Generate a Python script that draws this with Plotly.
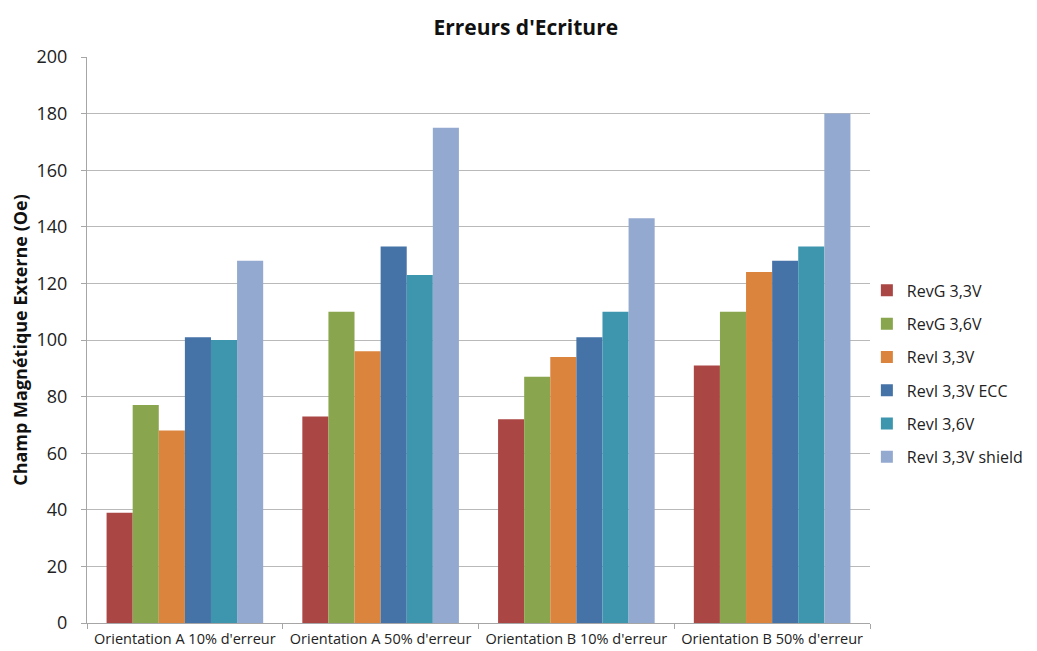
import plotly.graph_objects as go

categories = ["Orientation A 10% d'erreur", "Orientation A 50% d'erreur",
              "Orientation B 10% d'erreur", "Orientation B 50% d'erreur"]
series_names = ["RevG 3,3V", "RevG 3,6V", "RevI 3,3V", "RevI 3,3V ECC", "RevI 3,6V", "RevI 3,3V shield"]
revg_33 = [39, 73, 72, 91]
revg_36 = [77, 110, 87, 110]
revi_33 = [68, 96, 94, 124]
revi_33_ecc = [101, 133, 101, 128]
revi_36 = [100, 123, 110, 133]
revi_33_shield = [128, 175, 143, 180]
series_values = [revg_33, revg_36, revi_33, revi_33_ecc, revi_36, revi_33_shield]
colors = ["#AA4643", "#89A54E", "#DB843D", "#4572A7", "#3D96AE", "#93A9CF"]
y_ticks = list(range(0, 201, 20))

font_family = "Open Sans, Liberation Sans, sans-serif"

fig = go.Figure()
for i, (name, vals) in enumerate(zip(series_names, series_values)):
    fig.add_trace(go.Bar(
        x=categories, y=vals, name=name,
        marker=dict(color=colors[i], line=dict(width=0)),
        legendgroup=f"g{i}",
    ))

fig.update_layout(
    width=1037, height=651,
    paper_bgcolor="white", plot_bgcolor="white",
    margin=dict(l=87, r=167, t=57, b=28, autoexpand=False),
    barmode="group", bargap=0.2, bargroupgap=0,
    font=dict(family=font_family, color="#222222"),
    title=dict(text="<b>Erreurs d'Ecriture</b>", x=0.507, xanchor="center",
               y=0.957, yanchor="middle",
               font=dict(size=21, family=font_family, color="#111111")),
    legend=dict(x=0.996, xanchor="left", y=0.44, yanchor="middle",
                font=dict(size=16, family=font_family, color="#222222"),
                tracegroupgap=9.5, bgcolor="rgba(0,0,0,0)"),
    showlegend=True,
)
fig.update_xaxes(
    automargin=False, tickangle=0,
    showline=True, linecolor="#a6a6a6", linewidth=1,
    ticks="outside", tickson="boundaries", ticklen=5, tickcolor="#a6a6a6",
    ticklabelstandoff=3,
    tickfont=dict(size=14.5, family=font_family, color="#222222"),
    showgrid=False,
)
fig.update_yaxes(
    automargin=False,
    range=[0, 200], tickvals=y_ticks,
    showline=True, linecolor="#a6a6a6", linewidth=1,
    ticks="outside", ticklen=5, tickcolor="#a6a6a6",
    ticklabelstandoff=10,
    showgrid=True, gridcolor="#b9b9b9", gridwidth=1,
    zeroline=False,
    tickfont=dict(size=18, family=font_family, color="#222222"),
    title=dict(text="<b>Champ Magnétique Externe (Oe)</b>",
               font=dict(size=18, family=font_family, color="#111111"), standoff=4),
)

fig.write_html("out.html", config={"displayModeBar": False},
               post_script="document.body.style.margin='0';document.body.style.overflow='hidden';")
